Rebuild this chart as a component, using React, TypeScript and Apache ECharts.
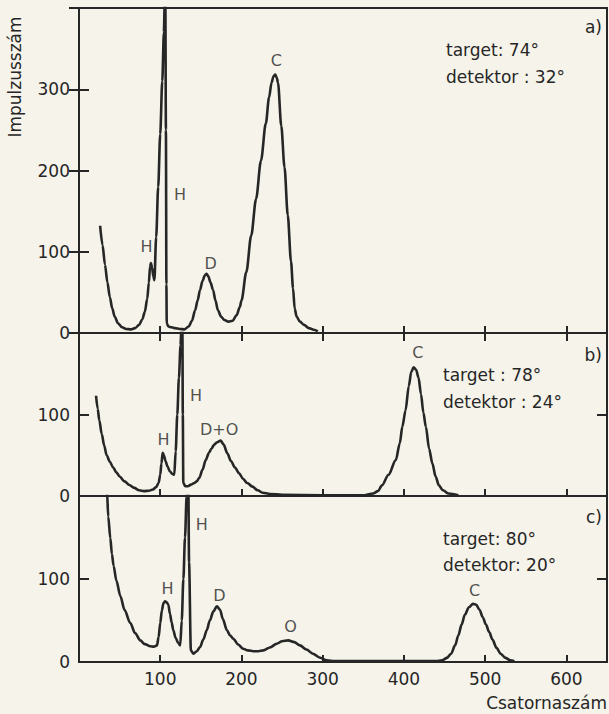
import React, { useEffect, useRef } from "react";
import * as echarts from "echarts";

// ---------- data (channel, counts) ----------
const panelA: [number, number][] = [
  [26, 132], [29, 108], [32, 84], [35, 62], [38, 44], [41, 30], [44, 20], [48, 12], [53, 7], [58, 5],
  [64, 4.5], [69, 6], [74, 10], [78, 17], [81, 26], [84, 42], [86, 62], [87.5, 82], [88.5, 86], [90, 80],
  [91.5, 70], [92.8, 65], [95, 118], [97.5, 180], [100, 245], [102.5, 310], [104.5, 370], [105.5, 405],
  [106.3, 410], [107, 250], [107.6, 60], [108, 12], [110, 8], [114, 7], [118, 6], [124, 5], [130, 4.5],
  [135, 8], [139, 15], [143, 28], [146, 40], [149, 53], [152, 64], [155, 71], [157, 73], [159, 70],
  [162, 62], [165, 53], [168, 40], [171, 28], [175, 20], [179, 16], [184, 14], [189, 15], [194, 22],
  [198, 32], [200, 40], [206, 75], [212, 120], [218, 165], [224, 212], [230, 258], [234, 290], [237, 308],
  [239.5, 316], [241.5, 318], [243.5, 314], [245, 308], [249, 255], [253, 204], [257, 145], [261, 88],
  [263.5, 55], [265.5, 30], [268, 20], [272, 14], [277, 10], [283, 6], [289, 4], [294, 2],
];

const panelB: [number, number][] = [
  [21, 123], [23, 107], [25, 93], [28, 76], [31, 62], [34, 50], [38, 42], [42, 35], [46, 29], [50, 24],
  [56, 18], [62, 13.5], [68, 10], [74, 7], [80, 6], [86, 6.5], [91, 8], [95, 11], [98, 16], [100, 26],
  [101.5, 40], [103, 53], [104.5, 50], [106.5, 43], [109, 36], [112, 30], [115, 27], [117.3, 26],
  [119, 55], [121, 100], [123, 145], [125, 185], [126, 205], [127.3, 205], [127.8, 100], [128.4, 16],
  [131, 12], [134, 12], [138, 14], [142, 16], [145, 18], [148, 22], [152, 32], [156, 44], [160, 53],
  [163, 58], [166.5, 63], [170, 66], [174.5, 68], [178, 63], [182.8, 52], [187, 43], [192, 35], [197, 28],
  [202, 21], [207, 16], [213.5, 11.5], [220, 7], [226, 4], [235, 2.5], [250, 1.5], [300, 1], [352, 1],
  [362, 3], [368, 6], [373, 13], [381, 26], [390, 44], [395, 65], [398, 85], [402, 105], [406, 135],
  [409, 152], [412, 158], [415, 155], [418, 145], [421, 125], [424, 102], [427, 85], [431, 58], [435, 40],
  [439, 24], [443, 13], [448, 7], [455, 3], [467, 1],
];

const panelC: [number, number][] = [
  [33, 260], [34.5, 205], [36, 175], [38.6, 149], [40.5, 130], [42.6, 116], [46, 98], [50.9, 79.5],
  [56, 63], [63.1, 47], [69, 35], [75.4, 26], [81, 21.5], [87.7, 19], [92, 18.5], [96, 20], [98, 30],
  [100, 47], [102, 62], [104, 71], [106, 73], [108, 72], [110, 69], [112, 58], [114, 48], [116, 38.6],
  [119, 29], [122, 23], [124.6, 20], [126.5, 50], [128.5, 100], [130.5, 150], [132.5, 200], [133.5, 225],
  [134.5, 225], [135.5, 120], [137.7, 14], [141, 10], [145, 13], [149, 18], [153, 27], [157.4, 38.6],
  [161, 50], [165.5, 61], [169.7, 67], [173.7, 63], [177, 52], [182, 38.6], [186, 32], [190, 28],
  [196, 21], [202, 16], [208, 14], [214.6, 13], [221, 13], [227, 14], [235, 17.5], [243.4, 22], [250, 25],
  [257.6, 26], [265, 24], [272, 20], [280, 15], [288, 10], [296, 5.5], [304.8, 2], [315, 1], [440, 1],
  [447, 2], [453, 5], [458, 10], [463, 20], [467, 32], [471, 45], [475, 57], [480, 66], [485, 70],
  [489, 69], [493, 63], [497, 54], [501, 45], [505, 36], [509, 27], [514, 17], [519, 10], [525, 5],
  [531, 2], [536, 1],
];

// peak labels: [text, channel, counts]
const labelsA: [string, number, number][] = [
  ["H", 83, 106], ["H", 124.3, 171], ["D", 162, 85.5], ["C", 243, 335],
];
const labelsB: [string, number, number][] = [
  ["H", 104, 69.5], ["H", 144, 123], ["D+O", 172.6, 82], ["C", 417, 176],
];
const labelsC: [string, number, number][] = [
  ["H", 109, 88], ["H", 151, 166], ["D", 173, 80], ["O", 260.5, 42.7], ["C", 487, 86],
];

const panelTags = ["a)", "b)", "c)"];
const targetTexts = ["target: 74°", "target : 78°", "target: 80°"];
const detectorTexts = ["detektor : 32°", "detektor : 24°", "detektor: 20°"];
const yMaxes = [400, 200, 200];
const xMax = 650;
const tickStep = 100;
const yName = "Impulzusszám";
const xName = "Csatornaszám";

const FONT = "DejaVu Sans";
const INK = "#262626";
const BG = "#f5f3ea";

export default function App() {
  const ref = useRef<HTMLDivElement>(null);

  useEffect(() => {
    if (!ref.current) return;
    const chart = echarts.init(ref.current, undefined, { renderer: "svg" });

    const grids = [
      { left: 79, top: 8, width: 528, height: 325 },
      { left: 79, top: 333, width: 528, height: 163 },
      { left: 79, top: 496, width: 528, height: 166 },
    ].map((g) => ({
      ...g,
      show: true,
      borderColor: INK,
      borderWidth: 2,
      backgroundColor: "transparent",
    }));

    const tickStyle = { color: INK, width: 2 };
    const xAxes: any[] = [];
    const yAxes: any[] = [];
    [0, 1, 2].forEach((i) => {
      xAxes.push({
        type: "value",
        gridIndex: i,
        min: 0,
        max: xMax,
        interval: tickStep,
        position: "bottom",
        axisLine: { show: false },
        axisTick: { show: true, inside: true, length: 7, lineStyle: tickStyle },
        splitLine: { show: false },
        axisLabel: {
          show: i === 2,
          showMinLabel: false,
          showMaxLabel: false,
          margin: 8,
          fontSize: 17,
          color: INK,
          fontFamily: FONT,
        },
      });
      yAxes.push({
        type: "value",
        gridIndex: i,
        min: 0,
        max: yMaxes[i],
        interval: tickStep,
        position: "left",
        axisLine: { show: false },
        axisTick: { show: true, inside: true, length: 10, lineStyle: tickStyle },
        splitLine: { show: false },
        axisLabel: {
          show: true,
          showMaxLabel: false,
          margin: 9,
          fontSize: 17,
          color: INK,
          fontFamily: FONT,
        },
      });
      yAxes.push({
        type: "value",
        gridIndex: i,
        min: 0,
        max: yMaxes[i],
        interval: tickStep,
        position: "right",
        axisLine: { show: false },
        axisTick: { show: true, inside: true, length: 10, lineStyle: tickStyle },
        splitLine: { show: false },
        axisLabel: { show: false },
      });
    });
    // top ticks of panel a
    xAxes.push({
      type: "value",
      gridIndex: 0,
      min: 0,
      max: xMax,
      interval: tickStep,
      position: "top",
      axisLine: { show: false },
      axisTick: { show: true, inside: true, length: 8, lineStyle: tickStyle },
      splitLine: { show: false },
      axisLabel: { show: false },
    });

    const curves = [panelA, panelB, panelC];
    const labels = [labelsA, labelsB, labelsC];
    const series: any[] = [];
    curves.forEach((data, i) => {
      series.push({
        type: "line",
        xAxisIndex: i,
        yAxisIndex: i * 2,
        data,
        showSymbol: false,
        symbol: "none",
        smooth: 0.3,
        smoothMonotone: "x",
        clip: true,
        lineStyle: { color: INK, width: 2.6 },
        z: 3,
      });
      series.push({
        type: "scatter",
        xAxisIndex: i,
        yAxisIndex: i * 2,
        symbolSize: 0.1,
        itemStyle: { color: "rgba(0,0,0,0)" },
        data: labels[i].map(([t, x, y]) => ({ name: t, value: [x, y] })),
        label: {
          show: true,
          position: "inside",
          formatter: "{b}",
          fontSize: 16,
          color: INK,
          fontFamily: FONT,
        },
        z: 4,
      });
    });

    const textStyle = (extra: any) => ({
      fill: INK,
      fontFamily: FONT,
      fontSize: 17,
      ...extra,
    });

    const tagY = [27, 355, 517];
    const targetY = [50, 375, 539];
    const detY = [77, 402, 565];
    const textX = [446, 443, 443];
    const graphic: any[] = [];
    [0, 1, 2].forEach((i) => {
      graphic.push({
        type: "text",
        x: 602,
        y: tagY[i],
        style: textStyle({ text: panelTags[i], textAlign: "right", textVerticalAlign: "middle" }),
      });
      graphic.push({
        type: "text",
        x: textX[i],
        y: targetY[i],
        style: textStyle({ text: targetTexts[i], textAlign: "left", textVerticalAlign: "middle" }),
      });
      graphic.push({
        type: "text",
        x: textX[i],
        y: detY[i],
        style: textStyle({ text: detectorTexts[i], textAlign: "left", textVerticalAlign: "middle" }),
      });
    });
    graphic.push({
      type: "text",
      x: 15,
      y: 77,
      rotation: Math.PI / 2,
      style: textStyle({ text: yName, fontSize: 17, textAlign: "center", textVerticalAlign: "middle" }),
    });
    graphic.push({
      type: "text",
      x: 607,
      y: 703,
      style: textStyle({ text: xName, fontSize: 17, textAlign: "right", textVerticalAlign: "middle" }),
    });

    chart.setOption({
      animation: false,
      backgroundColor: BG,
      grid: grids,
      xAxis: xAxes,
      yAxis: yAxes,
      series,
      graphic,
    });

    return () => chart.dispose();
  }, []);

  return (
    <div
      ref={ref}
      style={{ position: "fixed", left: 0, top: 0, width: 609, height: 714, background: BG }}
    />
  );
}
